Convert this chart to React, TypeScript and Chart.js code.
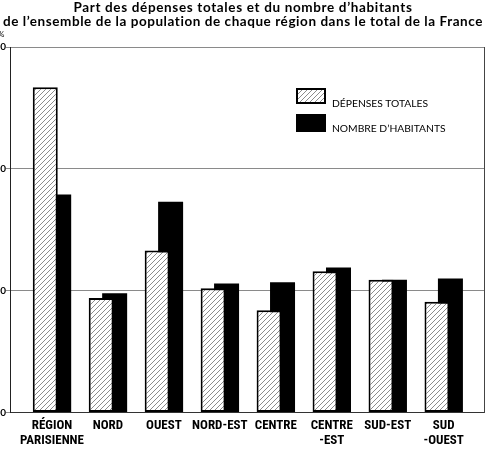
import React, { useEffect, useRef } from "react";
import { Chart, registerables } from "chart.js";

Chart.register(...registerables);

const titleLine1 = "Part des dépenses totales et du nombre d’habitants";
const titleLine2 = "de l’ensemble de la population de chaque région dans le total de la France";
const regions: string[][] = [
  ["RÉGION", "PARISIENNE"],
  ["NORD"],
  ["OUEST"],
  ["NORD-EST"],
  ["CENTRE"],
  ["CENTRE", "-EST"],
  ["SUD-EST"],
  ["SUD", "-OUEST"],
];
const depensesTotales = [26.7, 9.4, 13.3, 10.2, 8.4, 11.6, 10.9, 9.1];
const nombreHabitants = [17.9, 9.8, 17.3, 10.6, 10.7, 11.9, 10.9, 11.0];
const seriesNames = ["DÉPENSES TOTALES", "NOMBRE D’HABITANTS"];
const yTicks = [0, 10, 20, 30];
const yUnit = "%";

function makeHatch(): CanvasPattern | string {
  const c = document.createElement("canvas");
  c.width = 5;
  c.height = 5;
  const g = c.getContext("2d");
  if (!g) return "#ddd";
  g.fillStyle = "#fff";
  g.fillRect(0, 0, 5, 5);
  g.strokeStyle = "#8c8c8c";
  g.lineWidth = 1;
  g.beginPath();
  g.moveTo(-1, 6);
  g.lineTo(6, -1);
  g.moveTo(-1, 1);
  g.lineTo(1, -1);
  g.moveTo(4, 6);
  g.lineTo(6, 4);
  g.stroke();
  return g.createPattern(c, "repeat") || "#ddd";
}

export default function App() {
  const ref = useRef<HTMLCanvasElement | null>(null);

  useEffect(() => {
    if (!ref.current) return;
    const hatch = makeHatch();
    const chart = new Chart(ref.current, {
      type: "bar",
      data: {
        datasets: [
          {
            label: seriesNames[0],
            data: depensesTotales.map((v, i) => ({ x: i - 0.12, y: v })),
            backgroundColor: hatch as any,
            borderColor: "#000",
            borderWidth: 2,
            borderSkipped: false,
            grouped: false,
            barPercentage: 10,
            maxBarThickness: 25,
            order: 0,
          } as any,
          {
            label: seriesNames[1],
            data: nombreHabitants.map((v, i) => ({ x: i + 0.12, y: v })),
            backgroundColor: "#000",
            borderWidth: 0,
            grouped: false,
            barPercentage: 10,
            maxBarThickness: 25,
            order: 1,
          } as any,
        ],
      },
      options: {
        animation: false,
        responsive: false,
        maintainAspectRatio: false,
        layout: { padding: { top: 47, right: 2, bottom: 6, left: 0 } },
        plugins: { legend: { display: false }, tooltip: { enabled: false }, title: { display: false } },
        scales: {
          x: {
            type: "linear",
            offset: false,
            min: -0.75,
            max: 7.72,
            grid: { display: false, drawTicks: false, offset: false },
            border: { display: true, color: "#333", width: 1 },
            afterBuildTicks: (s: any) => {
              s.ticks = regions.map((_, i) => ({ value: i }));
            },
            afterFit: (s: any) => {
              s.paddingLeft = 0;
              s.paddingRight = 0;
            },
            ticks: {
              autoSkip: false,
              maxRotation: 0,
              minRotation: 0,
              padding: 6,
              color: "#000",
              font: { family: "'Roboto Condensed', 'Open Sans Condensed', sans-serif", size: 13, weight: "bold", lineHeight: 1.13 },
              callback: (v: any) => regions[Math.round(Number(v))] ?? "",
            },
          },
          y: {
            type: "linear",
            min: 0,
            max: 30,
            afterBuildTicks: (s: any) => {
              s.ticks = yTicks.map((v) => ({ value: v }));
            },
            afterFit: (s: any) => {
              s.width = 10;
            },
            grid: { color: "#8a8a8a", lineWidth: 1, tickLength: 4, drawTicks: true },
            border: { display: true, color: "#222", width: 1 },
            ticks: {
              padding: 0,
              color: "#000",
              font: { family: "Lato, sans-serif", size: 10, weight: "bold" },
              callback: (v: any) => String(v),
            },
          },
          y2: {
            type: "linear",
            position: "right",
            min: 0,
            max: 30,
            grid: { display: false, drawTicks: false },
            border: { display: true, color: "#444", width: 1 },
            ticks: { display: false },
            afterFit: (s: any) => {
              s.width = 0;
            },
          },
        },
      } as any,
    });
    return () => chart.destroy();
  }, []);

  const legendText: React.CSSProperties = {
    position: "absolute",
    left: 332,
    fontFamily: "Lato, sans-serif",
    fontSize: 10.3,
    letterSpacing: 0,
    lineHeight: "12px",
    color: "#000",
    whiteSpace: "nowrap",
  };

  return (
    <div style={{ position: "fixed", top: 0, left: 0, width: 486, height: 460, overflow: "hidden", background: "#fff" }}>
      <canvas ref={ref} width={486} height={460} style={{ position: "absolute", left: 0, top: 0, width: 486, height: 460 }} />
      <div
        style={{
          position: "absolute",
          top: 0,
          left: 0,
          width: 486,
          textAlign: "center",
          fontFamily: "Lato, sans-serif",
          fontWeight: 700,
          fontSize: 13.5,
          letterSpacing: 0.65,
          lineHeight: "15px",
          color: "#000",
          whiteSpace: "nowrap",
        }}
      >
        {titleLine1}
      </div>
      <div
        style={{
          position: "absolute",
          top: 14,
          left: 0,
          width: 486,
          textAlign: "center",
          fontFamily: "Lato, sans-serif",
          fontWeight: 700,
          fontSize: 13.5,
          letterSpacing: 0.56,
          lineHeight: "15px",
          color: "#000",
          whiteSpace: "nowrap",
        }}
      >
        {titleLine2}
      </div>
      <div style={{ position: "absolute", left: -2, top: 29, fontFamily: "Lato, sans-serif", fontSize: 8, color: "#000" }}>{yUnit}</div>
      <div
        style={{
          position: "absolute",
          left: 296,
          top: 88,
          width: 30,
          height: 16,
          boxSizing: "border-box",
          border: "2px solid #000",
          background: "repeating-linear-gradient(135deg, #fff 0px, #fff 2.5px, #8c8c8c 2.5px, #8c8c8c 3.5px)",
        }}
      />
      <div style={{ ...legendText, top: 97 }}>{seriesNames[0]}</div>
      <div style={{ position: "absolute", left: 296, top: 114, width: 30, height: 18, background: "#000" }} />
      <div style={{ ...legendText, top: 122 }}>{seriesNames[1]}</div>
    </div>
  );
}
